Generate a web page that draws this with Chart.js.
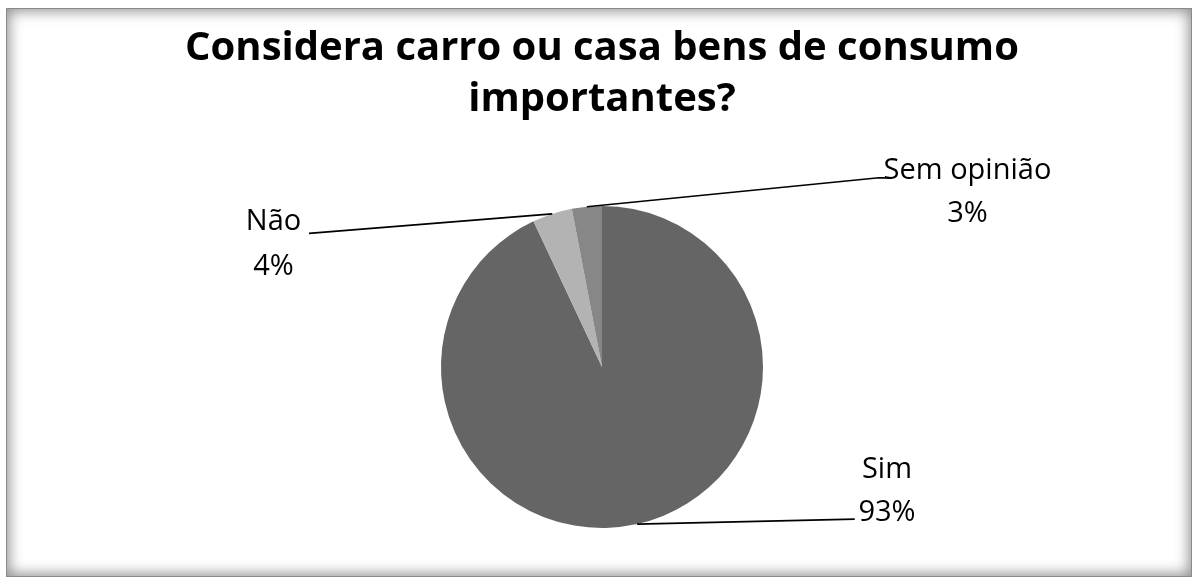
<!DOCTYPE html>
<html>
<head>
<meta charset="utf-8">
<script src="https://cdn.jsdelivr.net/npm/chart.js@4"></script>
<style>
  html, body { margin: 0; padding: 0; background: #ffffff; }
  #wrap { position: relative; width: 1196px; height: 578px; overflow: hidden; }
  #frame {
    position: absolute; left: 6px; top: 8px; width: 1186px; height: 569px;
    box-sizing: border-box; border: 1px solid #8a8a8a;
    box-shadow: inset 0 0 14px 2px rgba(0,0,0,0.45);
    background: #ffffff;
  }
  #c { position: absolute; left: 0; top: 0; }
</style>
</head>
<body>
<div id="wrap">
  <div id="frame"></div>
  <canvas id="c" width="1196" height="578"></canvas>
</div>
<script>
const titleLines = ['Considera carro ou casa bens de consumo', 'importantes?'];
const categories = ['Sim', 'Não', 'Sem opinião'];
const percentages = [93, 4, 3];
const sliceColors = ['#656565', '#b3b3b3', '#878787'];
// label placement relative to pie centre, in units of the pie radius
const labelOffsets = [
  { dx: 1.77, dy1: 0.64, dy2: 0.905, lx: 1.57, ly: 0.945 },
  { dx: -2.04, dy1: -0.905, dy2: -0.625, lx: -1.82, ly: -0.83 },
  { dx: 2.27, dy1: -1.22, dy2: -0.955, lx: 1.72, ly: -1.175, hx: 1.8 }
];

const labelPlugin = {
  id: 'pieLabels',
  afterDatasetsDraw(chart) {
    const ctx = chart.ctx;
    const meta = chart.getDatasetMeta(0);
    ctx.save();
    meta.data.forEach((arc, i) => {
      const p = arc.getProps(['x', 'y', 'startAngle', 'endAngle', 'outerRadius'], true);
      const r = p.outerRadius;
      const mid = (p.startAngle + p.endAngle) / 2;
      const ex = p.x + Math.cos(mid) * r;
      const ey = p.y + Math.sin(mid) * r;
      const o = labelOffsets[i];
      ctx.strokeStyle = '#000000';
      ctx.lineWidth = 1.6;
      ctx.beginPath();
      ctx.moveTo(ex, ey);
      ctx.lineTo(p.x + o.lx * r, p.y + o.ly * r);
      if (o.hx !== undefined) ctx.lineTo(p.x + o.hx * r, p.y + o.ly * r);
      ctx.stroke();
      ctx.fillStyle = '#000000';
      ctx.font = '29px "Open Sans"';
      ctx.textAlign = 'center';
      ctx.textBaseline = 'middle';
      ctx.fillText(categories[i], p.x + o.dx * r, p.y + o.dy1 * r);
      ctx.fillText(percentages[i] + '%', p.x + o.dx * r, p.y + o.dy2 * r);
    });
    ctx.restore();
  }
};

new Chart(document.getElementById('c'), {
  type: 'pie',
  data: {
    labels: categories,
    datasets: [{
      data: percentages,
      backgroundColor: sliceColors,
      borderWidth: 0
    }]
  },
  options: {
    responsive: false,
    animation: false,
    layout: { padding: { left: 8, right: 0, top: 0, bottom: 50 } },
    plugins: {
      legend: { display: false },
      tooltip: { enabled: false },
      title: {
        display: true,
        text: titleLines,
        color: '#000000',
        font: { family: '"Open Sans"', size: 40, weight: 'bold', lineHeight: 1.275 },
        padding: { top: 23, bottom: 81 }
      }
    }
  },
  plugins: [labelPlugin]
});
</script>
</body>
</html>
